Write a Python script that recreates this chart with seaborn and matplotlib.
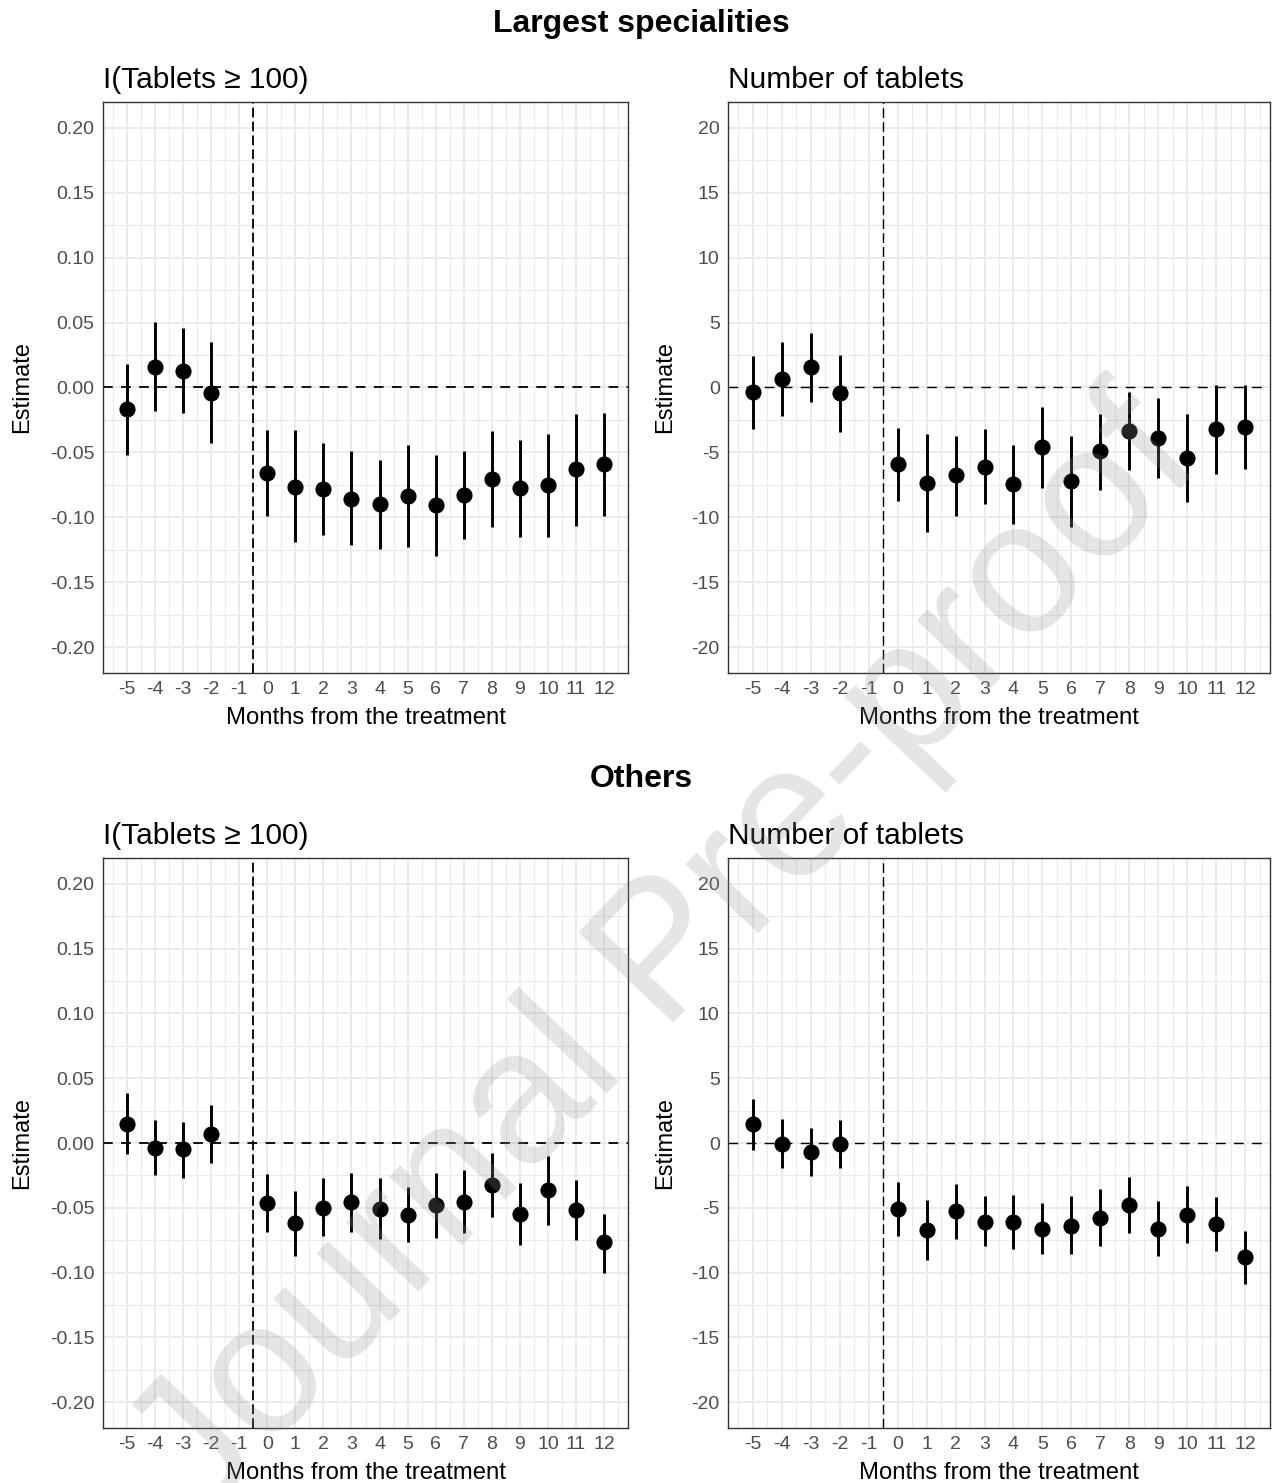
import matplotlib
matplotlib.use("Agg")
import matplotlib.pyplot as plt
import seaborn as sns
import pandas as pd

# Event-study estimates by month relative to treatment (month -1 is the reference)
months = [-5, -4, -3, -2, 0, 1, 2, 3, 4, 5, 6, 7, 8, 9, 10, 11, 12]
tick_months = list(range(-5, 13))

# Largest specialities: I(Tablets >= 100)
large_share_est = [-0.0168, 0.0161, 0.0128, -0.0044, -0.066, -0.0765, -0.078, -0.0856, -0.090,
                   -0.0836, -0.0906, -0.0826, -0.0708, -0.0775, -0.0755, -0.063, -0.059]
large_share_hi = [0.0178, 0.0507, 0.0456, 0.0349, -0.0326, -0.0329, -0.0426, -0.049, -0.0557,
                  -0.0446, -0.0523, -0.0487, -0.0332, -0.0406, -0.0359, -0.0205, -0.020]
large_share_lo = [-0.052, -0.0178, -0.020, -0.0426, -0.099, -0.119, -0.114, -0.1215, -0.1245,
                  -0.123, -0.130, -0.1168, -0.1077, -0.115, -0.115, -0.1064, -0.099]

# Largest specialities: number of tablets
large_count_est = [-0.34, 0.67, 1.58, -0.44, -5.9, -7.35, -6.78, -6.1, -7.42,
                   -4.6, -7.2, -4.93, -3.39, -3.89, -5.4, -3.22, -3.05]
large_count_hi = [2.45, 3.49, 4.23, 2.52, -3.09, -3.59, -3.76, -3.22, -4.4,
                  -1.48, -3.76, -2.08, -0.37, -0.84, -2.08, 0.23, 0.23]
large_count_lo = [-3.22, -2.21, -1.11, -3.46, -8.72, -11.1, -9.87, -9.0, -10.5,
                  -7.72, -10.77, -7.92, -6.34, -6.98, -8.79, -6.68, -6.31]

# Others: I(Tablets >= 100)
other_share_est = [0.0148, -0.004, -0.005, 0.007, -0.0466, -0.062, -0.050, -0.0453, -0.051,
                   -0.0554, -0.0477, -0.0453, -0.0326, -0.055, -0.0366, -0.052, -0.0768]
other_share_hi = [0.0383, 0.0178, 0.0164, 0.0295, -0.0242, -0.037, -0.027, -0.0228, -0.027,
                  -0.0336, -0.0228, -0.0208, -0.0074, -0.0309, -0.010, -0.0289, -0.0547]
other_share_lo = [-0.0084, -0.0248, -0.0268, -0.0158, -0.069, -0.087, -0.072, -0.0685, -0.074,
                  -0.0768, -0.0735, -0.0698, -0.0574, -0.0789, -0.063, -0.0745, -0.100]

# Others: number of tablets
other_count_est = [1.43, -0.07, -0.67, -0.1, -5.1, -6.7, -5.27, -6.07, -6.1,
                   -6.6, -6.37, -5.77, -4.77, -6.6, -5.57, -6.23, -8.83]
other_count_hi = [3.4, 1.83, 1.13, 1.8, -3.03, -4.37, -3.17, -4.07, -4.03,
                  -4.6, -4.07, -3.53, -2.6, -4.47, -3.33, -4.2, -6.8]
other_count_lo = [-0.53, -1.9, -2.53, -1.93, -7.17, -9.03, -7.4, -7.97, -8.2,
                  -8.6, -8.53, -7.93, -6.93, -8.7, -7.73, -8.3, -10.87]

share_ticks = [-0.20, -0.15, -0.10, -0.05, 0.00, 0.05, 0.10, 0.15, 0.20]
count_ticks = [-20, -15, -10, -5, 0, 5, 10, 15, 20]

sns.set_style("white")
plt.rcParams["font.family"] = ["Liberation Sans", "DejaVu Sans"]
plt.rcParams["axes.unicode_minus"] = False
plt.rcParams["lines.scale_dashes"] = False
plt.rcParams["text.color"] = "black"

W, H = 1273, 1483
fig = plt.figure(figsize=(W / 100, H / 100), dpi=100)
fig.patch.set_facecolor("white")

GRID = "#EBEBEB"
DARK = "#333333"
TICKTXT = "#4D4D4D"


def px_rect(left, top, right, bottom):
    return [left / W, 1 - bottom / H, (right - left) / W, (bottom - top) / H]


def draw_panel(rect, est, lo, hi, ticks, fmt, title, ylab_x, lw_ref):
    ax = fig.add_axes(rect)
    df = pd.DataFrame({"month": months, "est": est, "lo": lo, "hi": hi})
    step = ticks[1] - ticks[0]
    span = ticks[-1] - ticks[0]
    ax.set_xlim(-5.85, 12.85)
    ax.set_ylim(ticks[0] - 0.05 * span, ticks[-1] + 0.05 * span)

    ax.set_xticks(tick_months)
    ax.set_xticks([m + 0.5 for m in range(-6, 13)], minor=True)
    ax.set_yticks(ticks)
    ax.set_yticks([t + step / 2 for t in ticks[:-1]], minor=True)
    ax.set_xticklabels([str(m) for m in tick_months])
    ax.set_yticklabels([fmt.format(t) for t in ticks])

    ax.grid(which="major", color=GRID, linewidth=1.5, zorder=0)
    ax.grid(which="minor", color=GRID, linewidth=0.85, zorder=0)
    ax.set_axisbelow(True)

    ax.axhline(0, color="black", linewidth=lw_ref, dashes=(7, 6), zorder=1)
    ax.axvline(-0.5, color="black", linewidth=lw_ref, dashes=(7, 3), zorder=1)

    ax.vlines(df["month"], df["lo"], df["hi"], color="black", linewidth=2.1, zorder=2)
    sns.scatterplot(data=df, x="month", y="est", ax=ax, color="black", s=135,
                    linewidth=0, zorder=3, legend=False)

    for sp in ax.spines.values():
        sp.set_color(DARK)
        sp.set_linewidth(1.0)
    ax.tick_params(axis="both", which="major", length=3.5, width=1.0, color=DARK,
                   labelcolor=TICKTXT, labelsize=14, pad=2.5)
    ax.tick_params(axis="both", which="minor", length=0)

    ax.set_xlabel("Months from the treatment", fontsize=17.2, color="black")
    ax.xaxis.label.set_va("center")
    ax.xaxis.set_label_coords(0.5, -45 / 570)
    ax.set_ylabel("Estimate", fontsize=17, color="black")
    ax.yaxis.label.set_va("center")
    ax.yaxis.set_label_coords(ylab_x, 0.5)
    ax.set_title(title, loc="left", fontsize=21.5, color="black", pad=10)
    return ax


share_title = "I(Tablets \u2265 100)"
count_title = "Number of tablets"

draw_panel(px_rect(103, 102, 628, 673), large_share_est, large_share_lo, large_share_hi,
           share_ticks, "{:.2f}", share_title, (22 - 103) / 525, 1.3)
draw_panel(px_rect(728, 102, 1270, 673), large_count_est, large_count_lo, large_count_hi,
           count_ticks, "{:d}", count_title, (665 - 728) / 542, 1.0)
draw_panel(px_rect(103, 858, 628, 1428), other_share_est, other_share_lo, other_share_hi,
           share_ticks, "{:.2f}", share_title, (22 - 103) / 525, 1.3)
draw_panel(px_rect(728, 858, 1270, 1428), other_count_est, other_count_lo, other_count_hi,
           count_ticks, "{:d}", count_title, (665 - 728) / 542, 1.0)

fig.text(641 / W, 1 - 24 / H, "Largest specialities", ha="center", va="center",
         fontsize=23, fontweight="bold", color="black")
fig.text(641 / W, 1 - 779 / H, "Others", ha="center", va="center",
         fontsize=23, fontweight="bold", color="black")

# Journal watermark laid over the figure
fig.text(703 / W, 1 - 992 / H, "Journal Pre-proof", ha="center", va="baseline",
         rotation=46.5, rotation_mode="anchor", fontsize=136,
         color=(145 / 255, 145 / 255, 145 / 255), alpha=0.24, zorder=10)

fig.savefig("out.png", dpi=100, facecolor="white")
